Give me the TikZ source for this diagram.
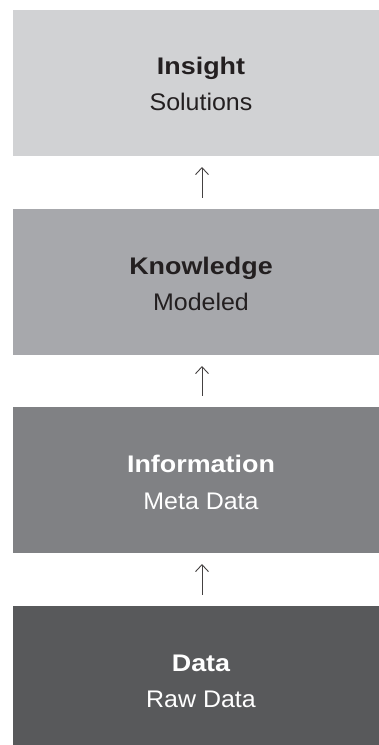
\documentclass[tikz,border=0pt]{standalone}
\usepackage{fontspec}
\setmainfont{Liberation Sans}
\newfontfamily\ttlfont{Liberation Sans}[FakeStretch=1.12]
\newfontfamily\subfont{Liberation Sans}[FakeStretch=1.04]
\usetikzlibrary{arrows.meta}
\definecolor{c1}{HTML}{D1D2D4}
\definecolor{c2}{HTML}{A7A8AC}
\definecolor{c3}{HTML}{808184}
\definecolor{c4}{HTML}{58595B}
\definecolor{darktxt}{HTML}{231F20}
\begin{document}
\begin{tikzpicture}[x=1pt,y=-1pt,
  ttl/.style={anchor=base,font=\ttlfont\fontsize{24}{28}\selectfont\bfseries,inner sep=0pt},
  sub/.style={anchor=base,font=\subfont\fontsize{24}{28}\selectfont,inner sep=0pt},
  uparrow/.style={draw=darktxt!85,line width=0.9pt,-{Straight Barb[length=7pt,width=13pt,line width=0.9pt]}}]
\useasboundingbox (0,0) rectangle (379,745);
\fill[c1] (13,10) rectangle (390,156);
\fill[c2] (13,208.7) rectangle (390,354.7);
\fill[c3] (13,407) rectangle (390,553);
\fill[c4] (13,606) rectangle (390,752);
\node[ttl,text=darktxt] (t1) at (201,74) {Insight};
\node[sub,text=darktxt] (s1) at (201,110) {Solutions};
\node[ttl,text=darktxt] (t2) at (201,274) {Knowledge};
\node[sub,text=darktxt] (s2) at (201,310) {Modeled};
\node[ttl,text=white] (t3) at (201,472) {Information};
\node[sub,text=white] (s3) at (201,509) {Meta Data};
\node[ttl,text=white] (t4) at (201,671) {Data};
\node[sub,text=white] (s4) at (201,707.5) {Raw Data};
\coordinate (a1s) at (202,197.5); \coordinate (a1e) at (202,167);
\coordinate (a2s) at (202,395.5); \coordinate (a2e) at (202,366);
\coordinate (a3s) at (202,594.5); \coordinate (a3e) at (202,564);
\draw[uparrow] (a1s) -- (a1e);
\draw[uparrow] (a2s) -- (a2e);
\draw[uparrow] (a3s) -- (a3e);
\end{tikzpicture}
\end{document}
